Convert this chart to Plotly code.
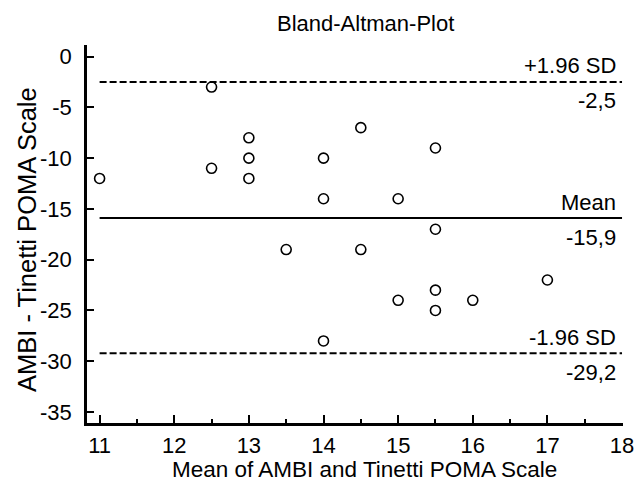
import plotly.graph_objects as go

# Data: mean of the two methods (x) and difference (y)
mean_vals = [11, 12.5, 12.5, 13, 13, 13, 13.5, 14, 14, 14, 14.5, 14.5,
             15, 15, 15.5, 15.5, 15.5, 15.5, 16, 17]
diff_vals = [-12, -3, -11, -8, -10, -12, -19, -10, -14, -28, -7, -19,
             -14, -24, -9, -17, -23, -25, -24, -22]

mean_diff = -15.9
upper_loa = -2.5
lower_loa = -29.2
line_labels = ["+1.96 SD", "Mean", "-1.96 SD"]
value_labels = ["-2,5", "-15,9", "-29,2"]
x_ticks = [11, 12, 13, 14, 15, 16, 17, 18]
y_ticks = [0, -5, -10, -15, -20, -25, -30, -35]

FONT = "Liberation Sans, Arial, sans-serif"
W, H = 635, 490
ML, MR, MT, MB = 87, 12, 45, 67
PW, PH = W - ML - MR, H - MT - MB


def px_to_paper(px, py):
    return (px - ML) / PW, (H - MB - py) / PH


fig = go.Figure()

x_lo, x_hi = 11, 18
fig.add_trace(go.Scatter(x=[x_lo, x_hi], y=[upper_loa, upper_loa], mode="lines",
                         line=dict(color="black", width=2, dash="7px,3px"),
                         hoverinfo="skip", showlegend=False))
fig.add_trace(go.Scatter(x=[x_lo, x_hi], y=[mean_diff, mean_diff], mode="lines",
                         line=dict(color="black", width=2),
                         hoverinfo="skip", showlegend=False))
fig.add_trace(go.Scatter(x=[x_lo, x_hi], y=[lower_loa, lower_loa], mode="lines",
                         line=dict(color="black", width=2, dash="7px,3px"),
                         hoverinfo="skip", showlegend=False))

fig.add_trace(go.Scatter(x=mean_vals, y=diff_vals, mode="markers",
                         marker=dict(symbol="circle-open", size=10,
                                     color="black", line=dict(width=1.6)),
                         showlegend=False))

for lab, val, yv in zip(line_labels, value_labels, [upper_loa, mean_diff, lower_loa]):
    fig.add_annotation(x=x_hi, y=yv, text=lab, showarrow=False,
                       xanchor="right", yanchor="middle", xshift=-4, yshift=16,
                       font=dict(family=FONT, size=22, color="black"))
    fig.add_annotation(x=x_hi, y=yv, text=val, showarrow=False,
                       xanchor="right", yanchor="middle", xshift=-4, yshift=-19,
                       font=dict(family=FONT, size=22, color="black"))

# Chart title
tx, ty = px_to_paper(365, 24)
fig.add_annotation(x=tx, y=ty, xref="paper", yref="paper", text="Bland-Altman-Plot",
                   showarrow=False, xanchor="center", yanchor="middle",
                   font=dict(family=FONT, size=22, color="black"))
# X axis title
ax_x, ax_y = px_to_paper(364, 469)
fig.add_annotation(x=ax_x, y=ax_y, xref="paper", yref="paper",
                   text="Mean of AMBI and Tinetti POMA Scale",
                   showarrow=False, xanchor="center", yanchor="middle",
                   font=dict(family=FONT, size=22.5, color="black"))
# Y axis title
ay_x, ay_y = px_to_paper(27, 240)
fig.add_annotation(x=ay_x, y=ay_y, xref="paper", yref="paper",
                   text="AMBI - Tinetti POMA Scale", textangle=-90,
                   showarrow=False, xanchor="center", yanchor="middle",
                   font=dict(family=FONT, size=25.5, color="black"))

fig.update_layout(
    width=W, height=H,
    margin=dict(l=ML, r=MR, t=MT, b=MB),
    paper_bgcolor="white", plot_bgcolor="white",
    font=dict(family=FONT, size=22, color="black"),
    showlegend=False,
)
fig.update_xaxes(
    range=[10.831, 18.013], tickvals=x_ticks, ticktext=[str(v) for v in x_ticks],
    showgrid=False, zeroline=False, showline=True, linecolor="black", linewidth=2.5,
    ticks="inside", ticklen=8, tickwidth=2, tickcolor="black",
    minor=dict(dtick=0.5, tick0=11, ticks="inside", ticklen=4, tickwidth=1.5, tickcolor="black"),
    tickfont=dict(family=FONT, size=22), automargin=False, ticklabelstandoff=1,
)
fig.update_yaxes(
    range=[-36.08, 1.14], tickvals=y_ticks, ticktext=[str(v) for v in y_ticks],
    showgrid=False, zeroline=False, showline=True, linecolor="black", linewidth=2.5,
    ticks="inside", ticklen=7, tickwidth=2, tickcolor="black",
    tickfont=dict(family=FONT, size=22), automargin=False, ticklabelstandoff=8,
)

fig.write_html("out.html", config={"displayModeBar": False},
               post_script="document.body.style.margin='0';")
